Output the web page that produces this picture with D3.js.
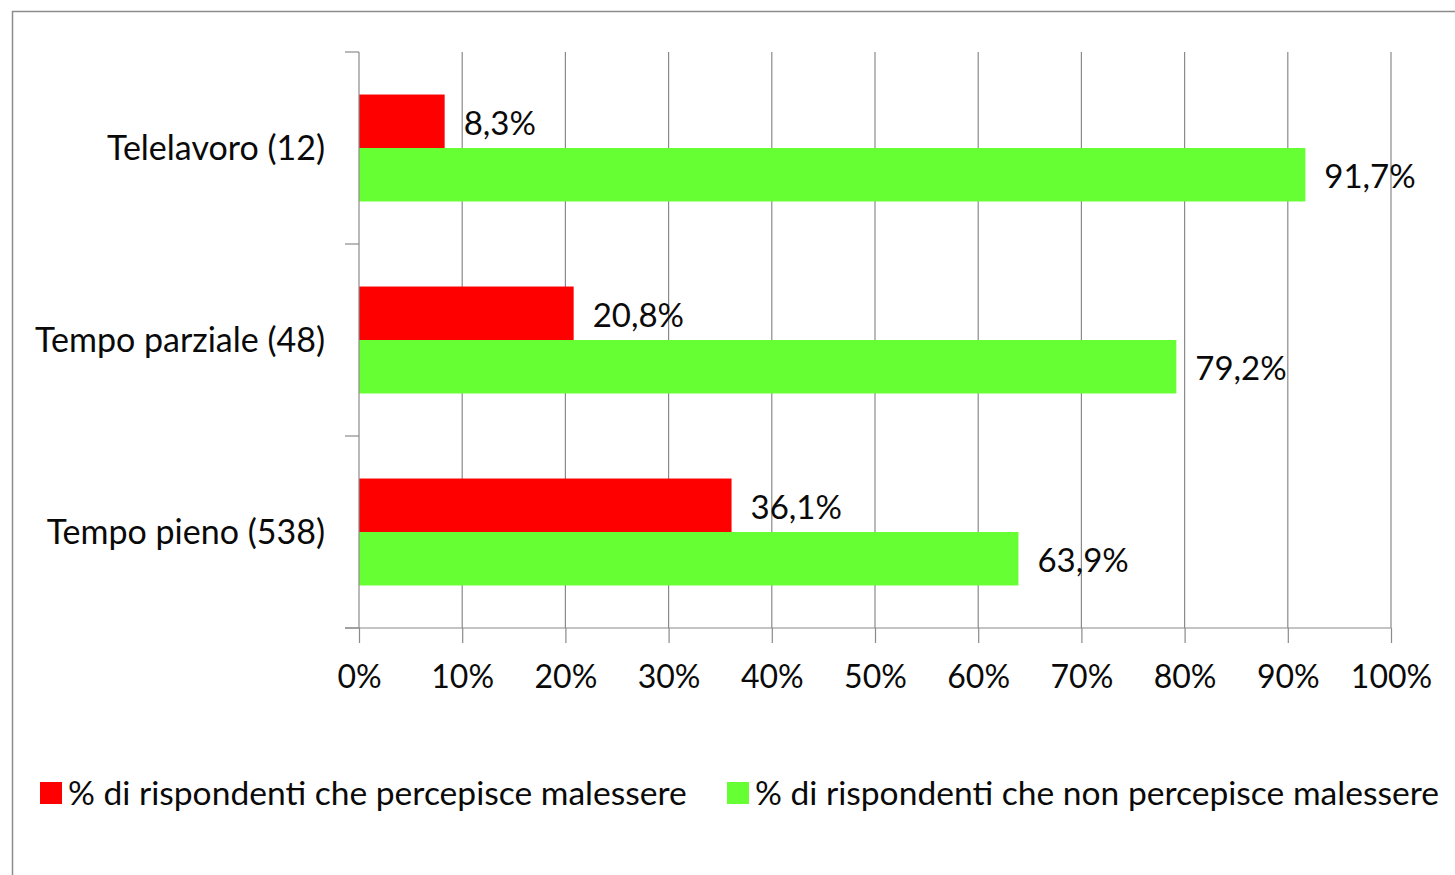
<!DOCTYPE html>
<html>
<head>
<meta charset="utf-8">
<script src="https://cdn.jsdelivr.net/npm/d3@7"></script>
<style>
  html, body { margin: 0; padding: 0; background: #fff; }
  svg { display: block; font-family: Lato, "Open Sans", sans-serif; }
</style>
</head>
<body>
<svg id="chart" width="1455" height="875"></svg>
<script>
// Work arrangement categories with respondent counts
const categories = ["Telelavoro (12)", "Tempo parziale (48)", "Tempo pieno (538)"];
// Share of respondents perceiving discomfort / not perceiving it (%)
const malessere = [8.3, 20.8, 36.1];
const nonMalessere = [91.7, 79.2, 63.9];
const seriesNames = [
  "% di rispondenti che percepisce malessere",
  "% di rispondenti che non percepisce malessere"
];
const seriesColors = ["#ff0000", "#66ff33"];
const xTicks = [0, 10, 20, 30, 40, 50, 60, 70, 80, 90, 100];

const fmt = v => v.toFixed(1).replace(".", ",") + "%";

const svg = d3.select("#chart");
const margin = { left: 359, right: 1391, top: 52, bottom: 628 };
const gridColor = "#8a8a8a";
const textColor = "#0a0a0a";

// Outer frame
svg.append("rect")
  .attr("x", 12.5).attr("y", 11.5)
  .attr("width", 1460).attr("height", 880)
  .attr("fill", "#fff").attr("stroke", "#8c8c8c").attr("stroke-width", 1.5);

const x = d3.scaleLinear().domain([0, 100]).range([margin.left, margin.right]);
const y = d3.scaleBand().domain(categories)
  .range([margin.top, margin.bottom])
  .paddingInner(0.443).paddingOuter(0.2215);
const ySub = d3.scaleBand().domain([0, 1]).range([0, y.bandwidth()]);

// Vertical gridlines
svg.append("g").selectAll("line")
  .data(xTicks.slice(1))
  .join("line")
  .attr("x1", d => x(d)).attr("x2", d => x(d))
  .attr("y1", margin.top).attr("y2", margin.bottom)
  .attr("stroke", gridColor).attr("stroke-width", 1.2);

// Bars
const rows = categories.map((c, i) => ({ cat: c, vals: [malessere[i], nonMalessere[i]] }));
const groups = svg.append("g").selectAll("g")
  .data(rows).join("g")
  .attr("transform", d => `translate(0,${y(d.cat)})`);

groups.selectAll("rect")
  .data(d => d.vals.map((v, k) => ({ v, k })))
  .join("rect")
  .attr("x", x(0))
  .attr("y", d => ySub(d.k))
  .attr("width", d => x(d.v) - x(0))
  .attr("height", ySub.bandwidth())
  .attr("fill", d => seriesColors[d.k]);

// Value labels
groups.selectAll("text")
  .data(d => d.vals.map((v, k) => ({ v, k })))
  .join("text")
  .attr("x", d => x(d.v) + 19)
  .attr("y", d => ySub(d.k) + ySub.bandwidth() / 2 + 2)
  .attr("dy", "0.35em")
  .attr("font-size", 33)
  .attr("fill", textColor)
  .text(d => fmt(d.v));

// X axis
const xAxis = d3.axisBottom(x)
  .tickValues(xTicks)
  .tickSize(15)
  .tickPadding(22)
  .tickFormat(d => d + "%");
const gx = svg.append("g")
  .attr("transform", `translate(0,${margin.bottom})`)
  .call(xAxis);
gx.select(".domain").remove();
gx.selectAll(".tick line").attr("stroke", gridColor).attr("stroke-width", 1.2);
gx.selectAll(".tick text").attr("font-size", 32).attr("fill", textColor)
  .attr("font-family", "Lato, sans-serif");
gx.append("line")
  .attr("x1", margin.left - 14).attr("x2", x(100))
  .attr("y1", 0).attr("y2", 0)
  .attr("stroke", gridColor).attr("stroke-width", 1.2);

// Y axis: ticks sit at category boundaries
const boundaries = [margin.top].concat(categories.map(c => y(c) + y.bandwidth() + y.step() * y.paddingInner() / 2));
const gy = svg.append("g");
gy.append("line")
  .attr("x1", margin.left).attr("x2", margin.left)
  .attr("y1", margin.top).attr("y2", margin.bottom)
  .attr("stroke", gridColor).attr("stroke-width", 1.2);
gy.selectAll("line.tk")
  .data(boundaries)
  .join("line").attr("class", "tk")
  .attr("x1", margin.left - 14).attr("x2", margin.left)
  .attr("y1", d => d).attr("y2", d => d)
  .attr("stroke", gridColor).attr("stroke-width", 1.2);
gy.selectAll("text")
  .data(categories)
  .join("text")
  .attr("x", margin.left - 34)
  .attr("y", d => y(d) + y.bandwidth() / 2)
  .attr("dy", "0.35em")
  .attr("text-anchor", "end")
  .attr("font-size", 34)
  .attr("fill", textColor)
  .text(d => d);

// Legend
const legendX = [40, 727];
const legend = svg.append("g").selectAll("g")
  .data(seriesNames).join("g")
  .attr("transform", (d, i) => `translate(${legendX[i]},782)`);
legend.append("rect")
  .attr("width", 22).attr("height", 22)
  .attr("fill", (d, i) => seriesColors[i]);
legend.append("text")
  .attr("x", 28).attr("y", 11).attr("dy", "0.35em")
  .attr("font-size", 33.6)
  .attr("fill", textColor)
  .text(d => d);
</script>
</body>
</html>
